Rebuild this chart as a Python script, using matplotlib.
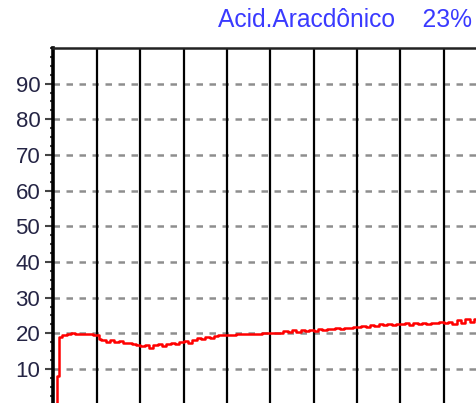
import matplotlib
matplotlib.use("Agg")
import matplotlib.pyplot as plt
from matplotlib.ticker import MultipleLocator

title_name = "Acid.Aracdônico"
title_value = "23%"

time = [0.0, 0.03, 0.08, 0.115, 0.13, 0.2, 0.3, 0.4, 0.5, 0.6, 0.7, 0.8, 0.9, 1.0,
        1.05, 1.1, 1.2, 1.3, 1.4, 1.5, 1.6, 1.7, 1.8, 1.9, 2.0, 2.1, 2.2, 2.3, 2.4,
        2.5, 2.6, 2.7, 2.8, 2.9, 3.0, 3.1, 3.2, 3.3, 3.4, 3.5, 3.6, 3.7, 3.8, 3.9,
        4.0, 4.2, 4.4, 4.6, 4.8, 5.0, 5.2, 5.3, 5.4, 5.5, 5.6, 5.7, 5.8, 5.9, 6.0,
        6.1, 6.2, 6.3, 6.4, 6.5, 6.6, 6.7, 6.8, 6.9, 7.0, 7.1, 7.2, 7.3, 7.4, 7.5,
        7.6, 7.7, 7.8, 7.9, 8.0, 8.1, 8.2, 8.3, 8.4, 8.5, 8.6, 8.7, 8.8, 8.9, 9.0,
        9.1, 9.2, 9.3, 9.4, 9.5, 9.6, 9.7, 9.8]
aggregation = [0.0, 0.0, 8.0, 8.0, 19.0, 19.5, 19.8, 20.0, 19.9, 19.8, 19.9, 19.7, 19.6, 19.5,
               18.5, 18.0, 17.6, 18.1, 17.5, 17.8, 17.3, 17.2, 17.0, 16.6, 16.3, 16.8, 15.8, 16.6, 16.9,
               16.5, 17.0, 17.3, 16.9, 17.6, 17.9, 17.4, 18.2, 18.6, 18.3, 18.9, 18.7, 19.2, 19.5, 19.4,
               19.6, 19.7, 19.8, 19.9, 20.0, 20.0, 20.1, 20.6, 20.3, 20.8, 20.4, 20.9, 20.5, 21.0, 20.7,
               21.2, 21.0, 21.3, 21.1, 21.5, 21.2, 21.6, 21.4, 21.8, 21.7, 22.0, 21.8, 22.3, 22.1, 22.6,
               22.2, 22.5, 22.4, 22.7, 22.5, 22.8, 22.4, 22.9, 22.7, 23.0, 22.6, 23.0, 22.8, 23.1, 23.0,
               23.2, 22.6, 23.6, 22.8, 24.0, 23.2, 24.1, 24.0]
y_ticks = [10, 20, 30, 40, 50, 60, 70, 80, 90]
x_grid = [1, 2, 3, 4, 5, 6, 7, 8, 9]

W, H = 477, 403
fig = plt.figure(figsize=(W / 100, H / 100), dpi=100)
left_px, top_px, bottom_px = 53.5, 48.0, 404.6
x_max = 9.77
ax = fig.add_axes([left_px / W, (H - bottom_px) / H, (W - left_px) / W, (bottom_px - top_px) / H])
ax.set_xlim(0, x_max)
ax.set_ylim(0, 100)

for y in y_ticks:
    ax.axhline(y, color="#8e8e8e", lw=1.8, linestyle=(0, (2.6, 2.6)), zorder=1)
for x in x_grid:
    ax.axvline(x, color="black", lw=1.6, zorder=2)

ax.plot(time, aggregation, color="#ff0000", lw=1.8, drawstyle="steps-post", zorder=3)

for s in ["right", "bottom"]:
    ax.spines[s].set_visible(False)
ax.spines["left"].set_linewidth(2.6)
ax.spines["left"].set_color("black")
ax.spines["top"].set_linewidth(1.8)
ax.spines["top"].set_color("#222222")

ax.set_xticks([])
ax.set_yticks(y_ticks)
ax.yaxis.set_minor_locator(MultipleLocator(2.5))
ax.tick_params(axis="y", which="major", length=6, width=1.5, color="#444444", pad=3.5,
               labelsize=16, labelcolor="#252545")
ax.tick_params(axis="y", which="minor", length=2.5, width=1.5, color="#444444")
for lbl in ax.get_yticklabels():
    lbl.set_fontfamily("Liberation Sans")

fig.text(472 / W, 1 - 20 / H, title_name + "    " + title_value, ha="right", va="center",
         fontsize=17.7, color="#3a3aff", family="Liberation Sans")

fig.savefig("out.png", dpi=100)
